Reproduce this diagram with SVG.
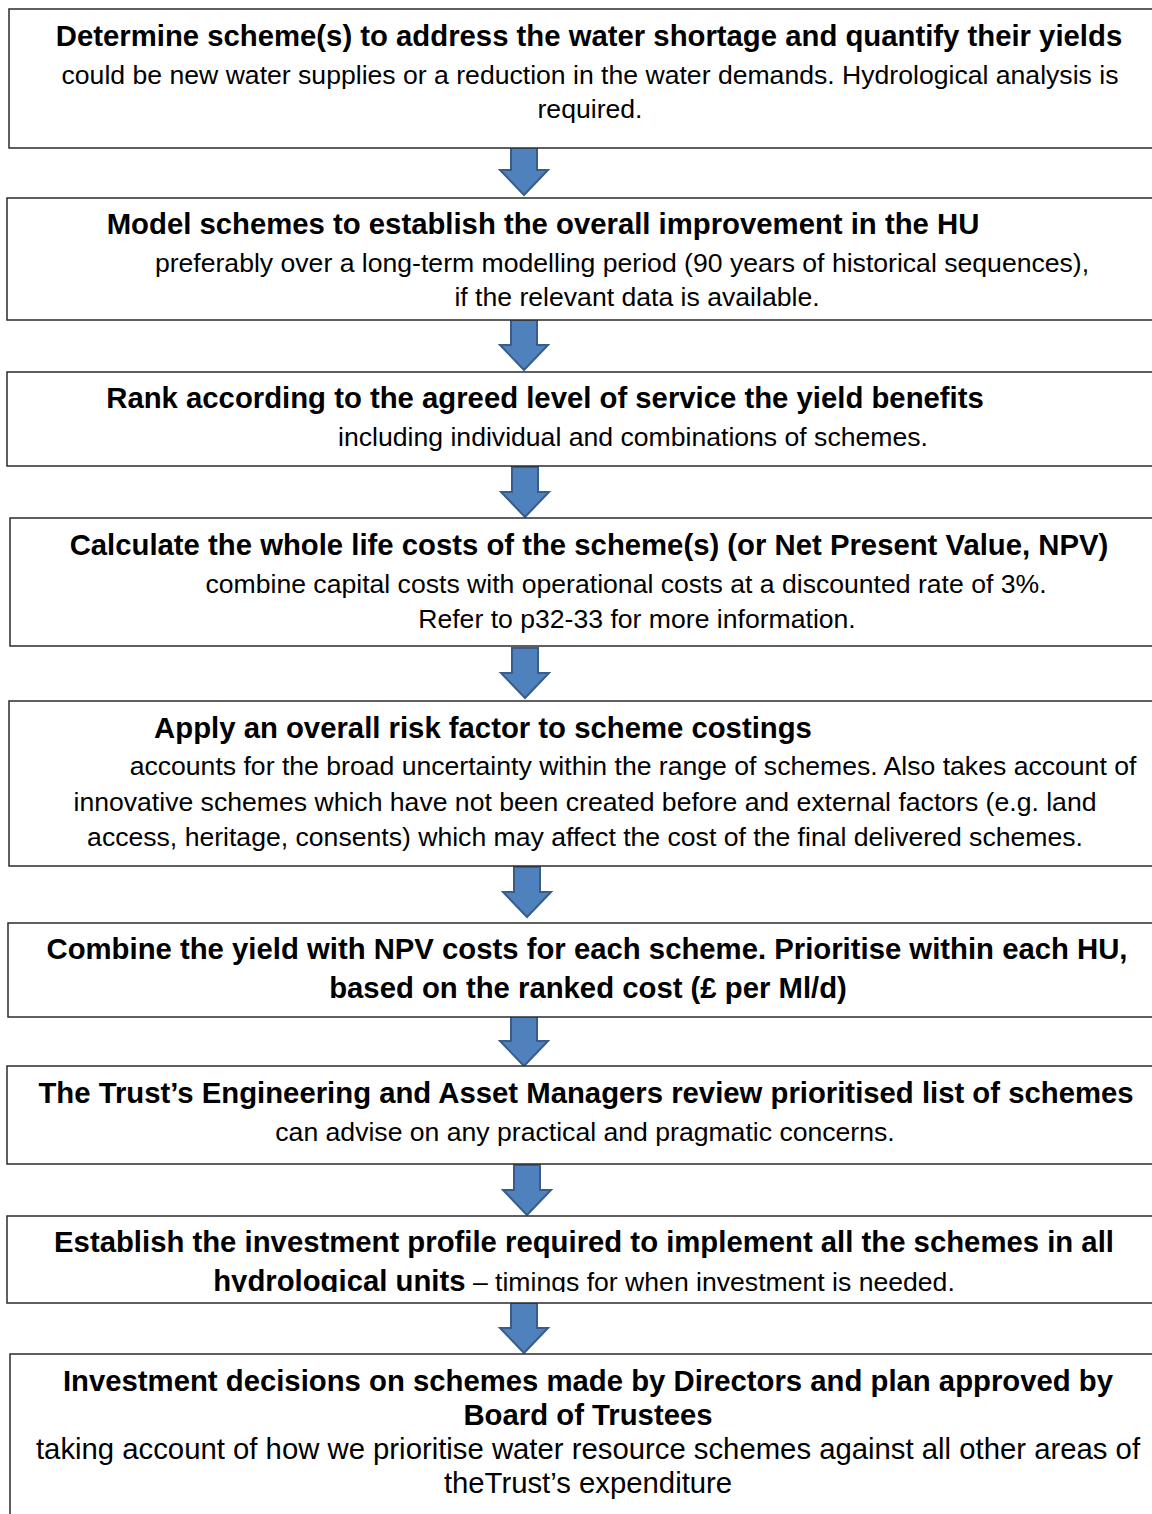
<svg xmlns="http://www.w3.org/2000/svg" width="1152" height="1514" viewBox="0 0 1152 1514">
  <style>
    .box { fill: #ffffff; stroke: #2b2b2b; stroke-width: 1.5; }
    .arrow { fill: #4f81bd; stroke: #385d8a; stroke-width: 2; stroke-linejoin: miter; }
    text { font-family: "Liberation Sans", Arial, sans-serif; fill: #000000; text-anchor: middle; }
    .h { font-size: 29.3px; font-weight: bold; }
    .b { font-size: 26.6px; }
    .b9 { font-size: 29.3px; }
  </style>
  <defs>
    <!-- down-pointing block arrow, centred on x=0, top at y=0 -->
    <path id="down" d="M -13 0 H 13 V 25 H 24 L 0 50 L -24 25 H -13 Z"/>
    <clipPath id="clip8"><rect x="0" y="1216" width="1152" height="76"/></clipPath>
  </defs>
  <rect width="1152" height="1514" fill="#ffffff"/>

  <g id="connectors">
    <use href="#down" class="arrow" transform="translate(524,145)"/>
    <use href="#down" class="arrow" transform="translate(524,320)"/>
    <use href="#down" class="arrow" transform="translate(525,467)"/>
    <use href="#down" class="arrow" transform="translate(525,648)"/>
    <use href="#down" class="arrow" transform="translate(527,867)"/>
    <use href="#down" class="arrow" transform="translate(524,1016)"/>
    <use href="#down" class="arrow" transform="translate(527,1165)"/>
    <use href="#down" class="arrow" transform="translate(524,1303)"/>
  </g>

  <g id="step1">
    <rect class="box" x="9" y="9" width="1160" height="139"/>
    <text class="h" x="589" y="46">Determine scheme(s) to address the water shortage and quantify their yields</text>
    <text class="b" x="590" y="84">could be new water supplies or a reduction in the water demands. Hydrological analysis is</text>
    <text class="b" x="590" y="118">required.</text>
  </g>

  <g id="step2">
    <rect class="box" x="7" y="198" width="1160" height="122"/>
    <text class="h" x="543" y="234">Model schemes to establish the overall improvement in the HU</text>
    <text class="b" x="622" y="272">preferably over a long-term modelling period (90 years of historical sequences),</text>
    <text class="b" x="637" y="306">if the relevant data is available.</text>
  </g>

  <g id="step3">
    <rect class="box" x="7" y="372" width="1160" height="94"/>
    <text class="h" x="545" y="408">Rank according to the agreed level of service the yield benefits</text>
    <text class="b" x="633" y="446">including individual and combinations of schemes.</text>
  </g>

  <g id="step4">
    <rect class="box" x="10" y="518" width="1160" height="128"/>
    <text class="h" x="589" y="555">Calculate the whole life costs of the scheme(s) (or Net Present Value, NPV)</text>
    <text class="b" x="626" y="593">combine capital costs with operational costs at a discounted rate of 3%.</text>
    <text class="b" x="637" y="628">Refer to p32-33 for more information.</text>
  </g>

  <g id="step5">
    <rect class="box" x="9" y="701" width="1160" height="165"/>
    <text class="h" x="483" y="738">Apply an overall risk factor to scheme costings</text>
    <text class="b" x="633" y="775">accounts for the broad uncertainty within the range of schemes. Also takes account of</text>
    <text class="b" x="585" y="811">innovative schemes which have not been created before and external factors (e.g. land</text>
    <text class="b" x="585" y="846">access, heritage, consents) which may affect the cost of the final delivered schemes.</text>
  </g>

  <g id="step6">
    <rect class="box" x="8" y="923" width="1160" height="94"/>
    <text class="h" x="587" y="959">Combine the yield with NPV costs for each scheme. Prioritise within each HU,</text>
    <text class="h" x="588" y="998">based on the ranked cost (£ per Ml/d)</text>
  </g>

  <g id="step7">
    <rect class="box" x="7" y="1066" width="1160" height="98"/>
    <text class="h" x="586" y="1103">The Trust’s Engineering and Asset Managers review prioritised list of schemes</text>
    <text class="b" x="585" y="1141">can advise on any practical and pragmatic concerns.</text>
  </g>

  <g id="step8">
    <rect class="box" x="7" y="1216" width="1160" height="87"/>
    <text class="h" x="584" y="1252">Establish the investment profile required to implement all the schemes in all</text>
    <text class="b" x="584" y="1291" clip-path="url(#clip8)"><tspan class="h">hydrological units</tspan> – timings for when investment is needed.</text>
  </g>

  <g id="step9">
    <rect class="box" x="10" y="1354" width="1160" height="180"/>
    <text class="h" x="588" y="1391">Investment decisions on schemes made by Directors and plan approved by</text>
    <text class="h" x="588" y="1425">Board of Trustees</text>
    <text class="b9" x="588" y="1459">taking account of how we prioritise water resource schemes against all other areas of</text>
    <text class="b9" x="588" y="1493">theTrust’s expenditure</text>
  </g>
</svg>
